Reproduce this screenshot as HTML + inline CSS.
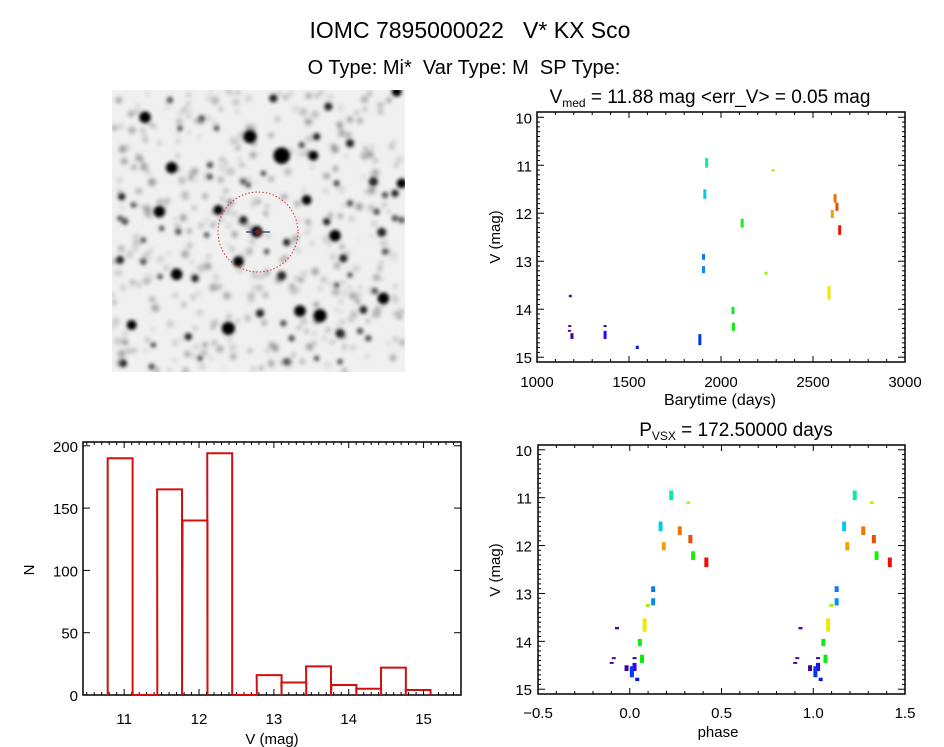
<!DOCTYPE html>
<html><head><meta charset="utf-8"><style>
html,body{margin:0;padding:0;background:#fff;}
svg{display:block;font-family:"Liberation Sans",sans-serif;}
</style></head><body>
<svg id="fig" width="944" height="747" viewBox="0 0 944 747">
<defs>
<filter id="blur" x="-50%" y="-50%" width="200%" height="200%"><feGaussianBlur stdDeviation="1.8"/></filter>
<filter id="blur2" x="-50%" y="-50%" width="200%" height="200%"><feGaussianBlur stdDeviation="2.2"/></filter>
<clipPath id="imgclip"><rect x="112" y="90" width="293" height="282"/></clipPath>
</defs>
<text x="470" y="38" font-size="23" text-anchor="middle" xml:space="preserve">IOMC 7895000022   V* KX Sco</text>
<text x="464" y="74" font-size="20" text-anchor="middle" xml:space="preserve">O Type: Mi*  Var Type: M  SP Type:</text>
<g id="img" clip-path="url(#imgclip)">
<rect x="112" y="90" width="293" height="282" fill="#f0f0f0"/>
</g>
<g id="lc"></g>
<g id="hist"></g>
<g id="ph"></g>
</svg>
<script>
// ---- data ----
const obsTime = [1181,1178,1176,1190,1370,1370,1545,1885,1905,1905,1912,1922,2065,2067,2115,2245,2283,2587,2605,2620,2630,2645];
const obsMagTop = [13.70,14.33,14.43,14.50,14.33,14.45,14.76,14.52,12.85,13.10,11.50,10.85,13.95,14.28,12.12,13.22,11.08,13.52,11.93,11.60,11.78,12.25];
const obsMagBot = [13.75,14.37,14.47,14.62,14.37,14.62,14.83,14.75,12.97,13.25,11.70,11.05,14.10,14.45,12.30,13.28,11.13,13.80,12.10,11.78,11.95,12.45];
const obsHue = [275,272,270,262,255,250,235,228,210,205,190,160,125,120,115,80,75,58,40,28,18,2];
const period = 172.5;
const epoch = 1538;
const histBinStart = [10.78,11.11,11.44,11.78,12.11,12.44,12.77,13.10,13.43,13.77,14.10,14.43,14.76];
const histCounts = [190,0,165,140,194,0,16,10,23,8,5,22,4];
const lcXTicks = [1000,1500,2000,2500,3000];
const magTicks = [10,11,12,13,14,15];
const phXTicks = [-0.5,0.0,0.5,1.0,1.5];
const phXLabels = ["\u22120.5","0.0","0.5","1.0","1.5"];
const histXTicks = [11,12,13,14,15];
const histYTicks = [0,50,100,150,200];
const stars = [[135,97,12],[210,45,6],[520,40,8],[890,20,10],[685,65,8],[305,100,6],[450,155,14],[545,212,18],[640,212,10],[750,175,8],[215,248,12],[330,240,6],[820,290,9],[905,295,10],[885,325,7],[855,330,6],[620,345,10],[65,335,7],[178,380,12],[355,375,10],[430,405,8],[470,440,12],[560,472,7],[705,452,12],[845,442,9],[830,380,6],[75,410,6],[415,530,11],[60,525,8],[230,568,12],[285,580,7],[545,572,9],[730,520,8],[855,500,6],[850,640,12],[825,618,6],[600,678,12],[660,692,14],[480,685,8],[790,675,7],[95,720,10],[385,730,14],[550,715,6],[720,745,9],[780,738,6],[265,755,7],[575,760,6],[805,760,6],[70,835,7],[155,845,6],[885,400,6],[905,405,6],[160,780,5],[130,530,6],[180,575,5],[560,830,6],[650,820,5],[720,830,5],[300,820,5],[240,130,5],[350,130,5],[650,155,7],[605,180,6],[330,275,5],[490,265,5],[430,290,5],[710,295,6],[750,355,6],[680,410,7],[185,430,5],[235,440,6],[320,450,5],[445,300,5],[60,400,5],[100,360,5],[500,500,5],[130,465,5],[750,570,5],[710,600,5]];

const NS="http://www.w3.org/2000/svg";
function mk(parent,tag,attrs,txt){const e=document.createElementNS(NS,tag);for(const k in attrs)e.setAttribute(k,attrs[k]);if(txt!==undefined)e.textContent=txt;parent.appendChild(e);return e;}

// ---- sky image ----
const img=document.getElementById('img');
const bg=mk(img,'g',{filter:'url(#blur2)'});
let seed=12345;function rnd(){seed=(seed*1103515245+12345)%2147483648;return seed/2147483648;}
for(let i=0;i<420;i++){
 const g=Math.floor(150+rnd()*70);
 mk(bg,'circle',{cx:112+rnd()*293,cy:90+rnd()*282,r:1.5+rnd()*2.5,fill:'rgb('+g+','+g+','+g+')'});
}
const sg=mk(img,'g',{filter:'url(#blur)'});
for(let i=0;i<stars.length;i++){const s=stars[i];
 const c=mk(sg,'circle',{cx:100+s[0]/3,cy:85+s[1]/3,r:s[2]/3*1.25+0.8,fill:s[2]>9?'#000':(s[2]>6?'#222':'#555')});
 
 }
const circ=mk(img,'circle',{cx:258,cy:232,r:40,fill:'none',stroke:'#c33','stroke-width':1,'stroke-dasharray':'1.5 2'});


mk(img,'line',{x1:246,y1:232,x2:270,y2:232,stroke:'#336','stroke-width':1.2});
mk(img,'circle',{cx:258,cy:232,r:3,fill:'#622'});

function frame(g,x0,y0,x1,y1){mk(g,'rect',{x:x0,y:y0,width:x1-x0,height:y1-y0,fill:'none',stroke:'#000','stroke-width':1.5});}

// ---- light curve ----
const lc=document.getElementById('lc');
const LX0=537,LX1=905,LY0=112,LY1=362;
const xL=t=>LX0+(t-1000)/2000*(LX1-LX0);
const yL=m=>LY0+(m-9.89)/(15.1-9.89)*(LY1-LY0);
frame(lc,LX0,LY0,LX1,LY1);
for(let t=1000;t<=3000;t+=100){const L=(t%500===0)?6:3;
 mk(lc,'line',{x1:xL(t),y1:LY1,x2:xL(t),y2:LY1-L,stroke:'#000'});mk(lc,'line',{x1:xL(t),y1:LY0,x2:xL(t),y2:LY0+L,stroke:'#000'});}
for(let k=100;k<=150;k++){const m=k/10;const L=(k%10===0)?7:3;
 mk(lc,'line',{x1:LX0,y1:yL(m),x2:LX0+L,y2:yL(m),stroke:'#000'});mk(lc,'line',{x1:LX1,y1:yL(m),x2:LX1-L,y2:yL(m),stroke:'#000'});}
lcXTicks.forEach(t=>{const e=mk(lc,'text',{x:xL(t),y:387,'font-size':15,'text-anchor':'middle'},String(t));});
magTicks.forEach(m=>{const e=mk(lc,'text',{x:532,y:yL(m)+6,'font-size':15,'text-anchor':'end'},String(m));});
let t1=mk(lc,'text',{x:720,y:405,'font-size':16,'text-anchor':'middle'},'Barytime (days)');
let t2=mk(lc,'text',{x:500,y:237,'font-size':15,'text-anchor':'middle',transform:'rotate(-90 500 237)'},'V (mag)');
let t3=mk(lc,'text',{x:710,y:103,'font-size':19,'text-anchor':'middle'});
t3.innerHTML='V<tspan font-size="12" dy="4">med</tspan><tspan dy="-4"> = 11.88 mag &lt;err_V&gt; = 0.05 mag</tspan>';
for(let i=0;i<obsTime.length;i++){
 const col='hsl('+obsHue[i]+',95%,'+(obsHue[i]>250?30:48)+'%)';
 const r=mk(lc,'rect',{x:xL(obsTime[i])-1.5,y:yL(obsMagTop[i]),width:3,height:Math.max(2,yL(obsMagBot[i])-yL(obsMagTop[i])),fill:col});
 
 
}

// ---- phase plot ----
const ph=document.getElementById('ph');
const PX0=538,PX1=905,PY0=445,PY1=694;
const xP=p=>PX0+(p+0.5)/2*(PX1-PX0);
const yP=m=>PY0+(m-9.9)/5.2*(PY1-PY0);
frame(ph,PX0,PY0,PX1,PY1);
for(let k=-5;k<=15;k++){const p=k/10;const L=(k%5===0)?6:3;
 mk(ph,'line',{x1:xP(p),y1:PY1,x2:xP(p),y2:PY1-L,stroke:'#000'});mk(ph,'line',{x1:xP(p),y1:PY0,x2:xP(p),y2:PY0+L,stroke:'#000'});}
for(let k=100;k<=150;k++){const m=k/10;const L=(k%10===0)?7:3;
 mk(ph,'line',{x1:PX0,y1:yP(m),x2:PX0+L,y2:yP(m),stroke:'#000'});mk(ph,'line',{x1:PX1,y1:yP(m),x2:PX1-L,y2:yP(m),stroke:'#000'});}
phXTicks.forEach((p,i)=>{const e=mk(ph,'text',{x:xP(p),y:718,'font-size':15,'text-anchor':'middle'},phXLabels[i]);});
magTicks.forEach(m=>{const e=mk(ph,'text',{x:532,y:yP(m)+6,'font-size':15,'text-anchor':'end'},String(m));});
let t4=mk(ph,'text',{x:718,y:737,'font-size':15,'text-anchor':'middle'},'phase');
let t5=mk(ph,'text',{x:500,y:570,'font-size':15,'text-anchor':'middle',transform:'rotate(-90 500 570)'},'V (mag)');
let t6=mk(ph,'text',{x:736,y:436,'font-size':19,'text-anchor':'middle'});
t6.innerHTML='P<tspan font-size="12" dy="4">VSX</tspan><tspan dy="-4"> = 172.50000 days</tspan>';
for(let i=0;i<obsTime.length;i++){
 let p=((obsTime[i]-epoch)/period)%1; if(p<0)p+=1; if(p>=0.88)p-=1;
 const col='hsl('+obsHue[i]+',95%,'+(obsHue[i]>250?30:48)+'%)';
 [p,p+1].forEach(pp=>{
  const r=mk(ph,'rect',{x:xP(pp)-2,y:yP(obsMagTop[i]),width:4,height:Math.max(2,yP(obsMagBot[i])-yP(obsMagTop[i])),fill:col});
  
  
 });
}

// ---- histogram ----
const hg=document.getElementById('hist');
const HX0=83,HX1=461,HY0=442,HY1=695;
const xH=v=>HX0+(v-10.45)/5.05*(HX1-HX0);
const yH=n=>HY1-n*1.246;
frame(hg,HX0,HY0,HX1,HY1);
for(let k=105;k<=155;k++){const v=k/10;const L=(k%10===0)?6:3;
 mk(hg,'line',{x1:xH(v),y1:HY1,x2:xH(v),y2:HY1-L,stroke:'#000'});mk(hg,'line',{x1:xH(v),y1:HY0,x2:xH(v),y2:HY0+L,stroke:'#000'});}
histYTicks.forEach(n=>{mk(hg,'line',{x1:HX0,y1:yH(n),x2:HX0+7,y2:yH(n),stroke:'#000'});mk(hg,'line',{x1:HX1,y1:yH(n),x2:HX1-7,y2:yH(n),stroke:'#000'});
 const e=mk(hg,'text',{x:78,y:yH(n)+6,'font-size':15,'text-anchor':'end'},String(n));});
histXTicks.forEach(v=>{const e=mk(hg,'text',{x:xH(v),y:724,'font-size':15,'text-anchor':'middle'},String(v));});
let t7=mk(hg,'text',{x:272,y:744,'font-size':15,'text-anchor':'middle'},'V (mag)');
let t8=mk(hg,'text',{x:34,y:570,'font-size':15,'text-anchor':'middle',transform:'rotate(-90 34 570)'},'N');
const bw=0.333;
let d='M'+xH(histBinStart[0])+' '+yH(0);
for(let i=0;i<histCounts.length;i++){const a=xH(histBinStart[i]),b=xH(histBinStart[i]+bw),h=yH(histCounts[i]);
 d+=' L'+a+' '+h+' L'+b+' '+h+' L'+b+' '+yH(0);}
const hp=mk(hg,'path',{d:d,fill:'none',stroke:'#d01010','stroke-width':2});


</script>
</body></html>
